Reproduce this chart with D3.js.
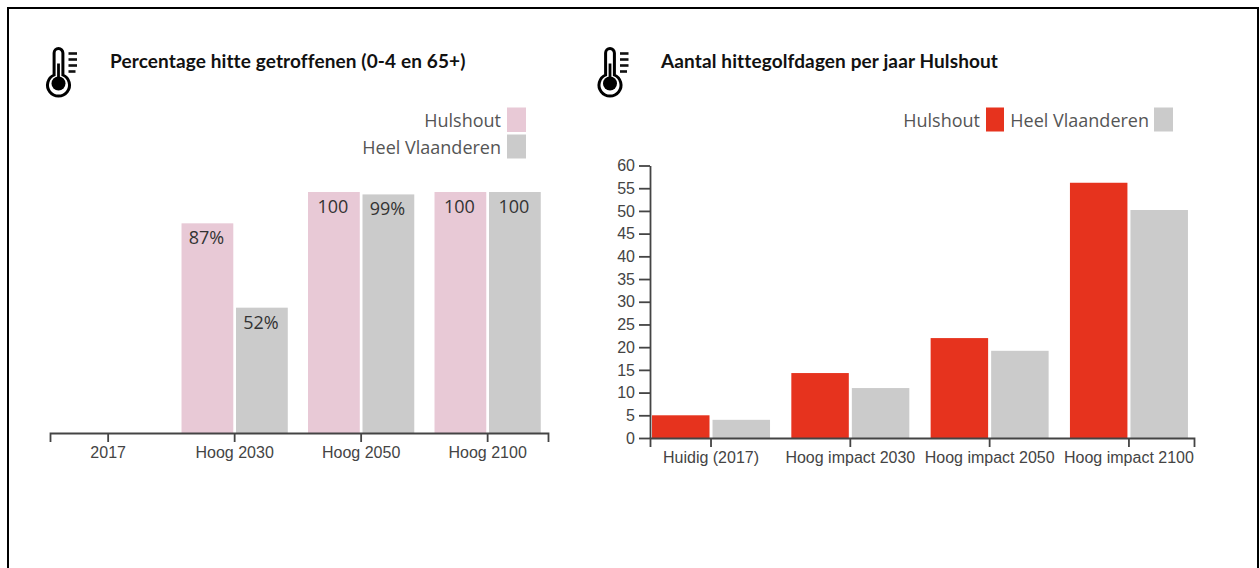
<!DOCTYPE html>
<html>
<head>
<meta charset="utf-8">
<script src="https://cdn.jsdelivr.net/npm/d3@7"></script>
<style>
    html, body { margin: 0; padding: 0; background: #fff; overflow: hidden; }
    svg { display: block; }
    .axis text { font-family: "Liberation Sans", Arial, sans-serif; font-size: 16px; fill: #444; }
    .axis path, .axis line { stroke: #444; stroke-width: 1.8px; fill: none; }
    .title { font-family: Lato, sans-serif; font-size: 19px; font-weight: 700; letter-spacing: 0.12px; fill: #111; }
    .legend { font-family: "Open Sans", sans-serif; font-size: 18px; fill: #555; }
    .label { font-family: "Open Sans", sans-serif; font-size: 18px; fill: #333; text-anchor: middle; }
</style>
</head>
<body>
<div id="chart"></div>
<script>
var series_names = ["Hulshout", "Heel Vlaanderen"];

var pct_categories = ["2017", "Hoog 2030", "Hoog 2050", "Hoog 2100"];
var pct_hulshout = [null, 87, 100, 100];
var pct_vlaanderen = [null, 52, 99, 100];
var pct_hulshout_labels = ["", "87%", "100", "100"];
var pct_vlaanderen_labels = ["", "52%", "99%", "100"];

var days_categories = ["Huidig (2017)", "Hoog impact 2030", "Hoog impact 2050", "Hoog impact 2100"];
var days_hulshout = [5, 14.3, 22, 56.2];
var days_vlaanderen = [4, 11, 19.2, 50.2];
var days_ticks = [0, 5, 10, 15, 20, 25, 30, 35, 40, 45, 50, 55, 60];

var PINK = "#e8c9d6", GREY = "#cbcbcb", RED = "#e6331e";

var svg = d3.select("#chart").append("svg")
    .attr("width", 1260)
    .attr("height", 568);

// frame runs off the bottom of the picture
svg.append("rect")
    .attr("x", 8).attr("y", 8)
    .attr("width", 1250).attr("height", 600)
    .attr("fill", "#fff")
    .attr("stroke", "#000")
    .attr("stroke-width", 2);

function draw_icon(cx) {
    var g = svg.append("g").attr("transform", "translate(" + cx + ",83.5)");
    // glass outline
    g.append("path")
        .attr("d", "M-4.4,-8.5 V-30.5 A4.4,4.4 0 0 1 4.4,-30.5 V-8.5 A11,11 0 1 1 -4.4,-8.5 Z")
        .attr("fill", "#fff")
        .attr("stroke", "#000")
        .attr("stroke-width", 3);
    g.append("circle").attr("r", 7).attr("fill", "#000");
    g.append("rect").attr("x", -1.4).attr("y", -20).attr("width", 2.8).attr("height", 16).attr("fill", "#000");
    g.selectAll("line.mark")
        .data([[-30, 8.5], [-24, 8.5], [-18, 8.5], [-12, 7]])
        .enter().append("line")
        .attr("x1", 10).attr("x2", function (d) { return 10 + d[1]; })
        .attr("y1", function (d) { return d[0]; }).attr("y2", function (d) { return d[0]; })
        .attr("stroke", "#111")
        .attr("stroke-width", 2.6);
}

function draw_bars(x, x1, y, categories, values, color, name) {
    var rows = d3.zip(categories, values).filter(function (d) { return d[1] !== null; });
    svg.append("g").selectAll("rect")
        .data(rows)
        .enter().append("rect")
        .attr("x", function (d) { return x(d[0]) + x1(name); })
        .attr("y", function (d) { return y(d[1]); })
        .attr("width", x1.bandwidth())
        .attr("height", function (d) { return y(0) - y(d[1]); })
        .attr("fill", color);
}

function draw_labels(x, x1, y, categories, values, labels, name) {
    var rows = d3.zip(categories, values, labels).filter(function (d) { return d[1] !== null; });
    svg.append("g").selectAll("text")
        .data(rows)
        .enter().append("text")
        .attr("class", "label")
        .attr("x", function (d) { return x(d[0]) + x1(name) + x1.bandwidth() / 2 - 1; })
        .attr("y", function (d) { return y(d[1]) + 21; })
        .text(function (d) { return d[2]; });
}

function legend_item(text_end, swatch_x, swatch_w, y0, h, color, name) {
    svg.append("text")
        .attr("class", "legend")
        .attr("x", text_end)
        .attr("y", y0 + h / 2 + 7)
        .attr("text-anchor", "end")
        .text(name);
    svg.append("rect")
        .attr("x", swatch_x).attr("y", y0)
        .attr("width", swatch_w).attr("height", h)
        .attr("fill", color);
}

/* left chart */
var x_pct = d3.scaleBand()
    .domain(pct_categories)
    .range([50, 548])
    .paddingInner(0.16)
    .paddingOuter(0.0485)
    .align(0.41);
var x1_pct = d3.scaleBand()
    .domain(series_names)
    .range([0, x_pct.bandwidth()])
    .paddingInner(0.05);
var y_pct = d3.scaleLinear().domain([0, 100]).range([433, 192]);

draw_icon(58.5);
svg.append("text").attr("class", "title").attr("x", 110).attr("y", 67.5)
    .text("Percentage hitte getroffenen (0-4 en 65+)");
legend_item(501, 507, 19, 107.5, 24.5, PINK, series_names[0]);
legend_item(501, 507, 19, 134.5, 24, GREY, series_names[1]);

draw_bars(x_pct, x1_pct, y_pct, pct_categories, pct_hulshout, PINK, series_names[0]);
draw_bars(x_pct, x1_pct, y_pct, pct_categories, pct_vlaanderen, GREY, series_names[1]);
draw_labels(x_pct, x1_pct, y_pct, pct_categories, pct_hulshout, pct_hulshout_labels, series_names[0]);
draw_labels(x_pct, x1_pct, y_pct, pct_categories, pct_vlaanderen, pct_vlaanderen_labels, series_names[1]);

svg.append("g")
    .attr("class", "axis")
    .attr("transform", "translate(0,433)")
    .call(d3.axisBottom(x_pct).tickSize(9).tickPadding(5));

/* right chart */
var x_days = d3.scaleBand()
    .domain(days_categories)
    .range([650, 1194])
    .paddingInner(0.153)
    .paddingOuter(0.029)
    .align(0.25);
var x1_days = d3.scaleBand()
    .domain(series_names)
    .range([0, x_days.bandwidth()])
    .paddingInner(0.05);
var y_days = d3.scaleLinear().domain([0, 60]).range([438, 165.5]);

draw_icon(610);
svg.append("text").attr("class", "title").attr("x", 661).attr("y", 67.5)
    .text("Aantal hittegolfdagen per jaar Hulshout");
legend_item(980, 986, 18, 107.5, 24, RED, series_names[0]);
legend_item(1149, 1154, 19, 107.5, 24, GREY, series_names[1]);

draw_bars(x_days, x1_days, y_days, days_categories, days_hulshout, RED, series_names[0]);
draw_bars(x_days, x1_days, y_days, days_categories, days_vlaanderen, GREY, series_names[1]);

svg.append("g")
    .attr("class", "axis")
    .attr("transform", "translate(0,438)")
    .call(d3.axisBottom(x_days).tickSize(9).tickPadding(5));

svg.append("g")
    .attr("class", "axis")
    .attr("transform", "translate(650,0)")
    .call(d3.axisLeft(y_days).tickValues(days_ticks).tickSize(11).tickSizeOuter(0).tickPadding(4));
</script>
</body>
</html>
